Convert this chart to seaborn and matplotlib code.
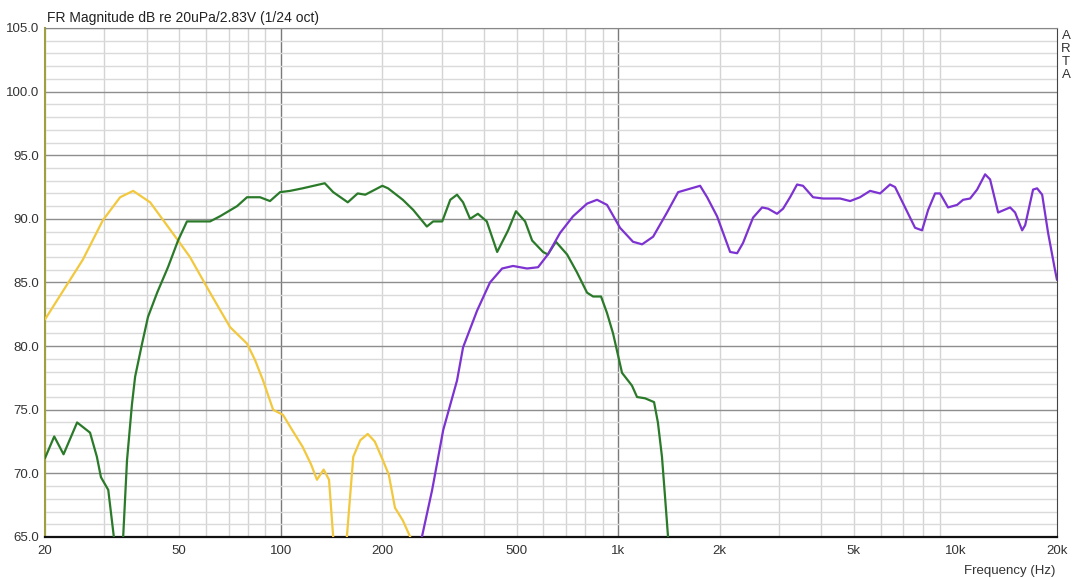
import numpy as np
import pandas as pd
import matplotlib
matplotlib.use('Agg')
import matplotlib.pyplot as plt
import seaborn as sns

# yellow (woofer)
woofer_f = [20, 25.9, 29.7, 33.4, 36.5, 41.0, 49.6, 53.8, 61.7, 70.7, 79.4, 83.9, 88.6, 94.9,
            101.5, 108.7, 116, 123, 128, 134, 139, 143, 150, 157, 164, 172, 181, 190, 201,
            209, 218, 230, 242, 280]
woofer_db = [82.1, 86.8, 89.9, 91.7, 92.2, 91.3, 88.3, 87.0, 84.2, 81.5, 80.2, 78.9, 77.3, 75.0,
             74.6, 73.3, 72.1, 70.7, 69.5, 70.3, 69.5, 65.0, 58.0, 65.0, 71.3, 72.6, 73.1, 72.5, 71.0,
             69.9, 67.3, 66.3, 65.0, 55.0]

# green (midrange)
mid_f = [20, 21.3, 22.7, 24.9, 27.2, 28.5, 29.3, 30.8, 32.0, 33.0, 34.1, 35.0, 36.2, 37.0, 38.8,
         40.4, 43.0, 46.3, 49.6, 52.7, 56.4, 61.7, 66.0, 74.2, 79.4, 86.8, 92.9, 99.5, 106.5,
         116, 135, 143, 158, 169, 178, 200, 208, 230, 247, 271, 283, 301, 318, 333, 347, 364,
         384, 408, 438, 472, 498, 530, 556, 599, 619, 654, 706, 755, 809, 843, 890, 927, 966,
         1027, 1099, 1138, 1202, 1278, 1312, 1349, 1378, 1406, 1500]
mid_db = [71.2, 72.9, 71.5, 74.0, 73.2, 71.3, 69.7, 68.7, 65.0, 58.0, 65.0, 71.0, 75.4, 77.6, 80.2,
          82.3, 84.2, 86.2, 88.3, 89.8, 89.8, 89.8, 90.2, 91.0, 91.7, 91.7, 91.4, 92.1, 92.2,
          92.4, 92.8, 92.1, 91.3, 92.0, 91.9, 92.6, 92.4, 91.5, 90.7, 89.4, 89.8, 89.8, 91.5, 91.9, 91.3, 90.0,
          90.4, 89.8, 87.4, 89.1, 90.6, 89.8, 88.3, 87.4, 87.2, 88.2, 87.2, 85.8, 84.2, 83.9, 83.9, 82.6, 81.0,
          77.9, 76.9, 76.0, 75.9, 75.6, 74.0, 71.3, 68.1, 65.0, 55.0]

# purple (tweeter)
tw_f = [240, 262, 281, 303, 333, 347, 382, 417, 453, 488, 537, 579, 619, 673, 735, 809, 866, 927,
        1013, 1107, 1178, 1270, 1396, 1506, 1750, 1836, 1965, 2148, 2253, 2345, 2512, 2672,
        2785, 2958, 3083, 3234, 3392, 3532, 3784, 4053, 4550, 4872, 5212, 5584, 5978, 6398,
        6622, 7090, 7590, 7962, 8298, 8702, 9004, 9506, 10116, 10536, 11052, 11592, 12244,
        12668, 13382, 14522, 15026, 15766, 16092, 16984, 17460, 18074, 18820, 19724, 20000]
tw_db = [58.0, 65.0, 68.7, 73.4, 77.3, 79.9, 82.8, 85.0, 86.1, 86.3, 86.1, 86.2, 87.2, 88.9, 90.2, 91.2, 91.5, 91.1,
         89.3, 88.2, 88.0, 88.6, 90.5, 92.1, 92.6, 91.7, 90.2, 87.4, 87.3, 88.1, 90.1, 90.9,
         90.8, 90.4, 90.8, 91.7, 92.7, 92.6, 91.7, 91.6, 91.6, 91.4, 91.7, 92.2, 92.0, 92.7,
         92.5, 90.9, 89.3, 89.1, 90.7, 92.0, 92.0, 90.9, 91.1, 91.5, 91.6, 92.3, 93.5,
         93.1, 90.5, 90.9, 90.5, 89.1, 89.5, 92.3, 92.4, 91.9, 88.9, 86.0, 85.2]

x_ticks = [20, 50, 100, 200, 500, 1000, 2000, 5000, 10000, 20000]
x_labels = ['20', '50', '100', '200', '500', '1k', '2k', '5k', '10k', '20k']
y_ticks = [65, 70, 75, 80, 85, 90, 95, 100, 105]

df = pd.concat([
    pd.DataFrame({'f': woofer_f, 'db': woofer_db, 'drv': 'woofer'}),
    pd.DataFrame({'f': mid_f, 'db': mid_db, 'drv': 'mid'}),
    pd.DataFrame({'f': tw_f, 'db': tw_db, 'drv': 'tweeter'}),
])

sns.set_style('white')
plt.rcParams['font.family'] = ['Liberation Sans', 'DejaVu Sans']

fig = plt.figure(figsize=(10.78, 5.78), dpi=100)
ax = fig.add_axes([45 / 1078, 41 / 578, 1012 / 1078, 509 / 578])

# grid: decades dark, the rest light; 5 dB dark, 1 dB light
for dec in [10, 100, 1000]:
    for m in range(1, 10):
        f = dec * m
        if f < 20 or f > 20000:
            continue
        ax.axvline(f, color='#7a7a7a' if m == 1 else '#d4d4d4', lw=1.0, zorder=0)
for v in range(65, 106):
    ax.axhline(v, color='#8e8e8e' if v % 5 == 0 else '#dadada', lw=1.0, zorder=0)

sns.lineplot(data=df, x='f', y='db', hue='drv', sort=False, estimator=None, ax=ax,
             palette={'woofer': '#f2c83e', 'mid': '#2a7a2a', 'tweeter': '#7d32d2'},
             lw=1.6, legend=False, zorder=3)

ax.set_xscale('log')
ax.set_xlim(20, 20000)
ax.set_ylim(65, 105)
ax.set_xticks(x_ticks)
ax.set_xticklabels(x_labels)
ax.minorticks_off()
ax.set_yticks(y_ticks)
ax.set_yticklabels([f'{v:.1f}' for v in y_ticks])
ax.tick_params(length=0, labelsize=9.5, colors='#333333', pad=6)
ax.tick_params(axis='y', pad=4)
ax.set_xlabel('')
ax.set_ylabel('')

ax.spines['bottom'].set_color('#111111')
ax.spines['bottom'].set_linewidth(1.6)
ax.spines['right'].set_color('#444444')
ax.spines['top'].set_color('#888888')
ax.spines['left'].set_color('#a0a040')
ax.spines['left'].set_linewidth(1.5)

fig.text(47 / 1078, 1 - 18 / 578, 'FR Magnitude dB re 20uPa/2.83V (1/24 oct)',
         fontsize=10, color='#222222', va='center', ha='left')
fig.text(1066 / 1078, 1 - 30 / 578, '\n'.join('ARTA'), fontsize=9.5, color='#333333',
         va='top', ha='center', linespacing=1.1)
fig.text(1055 / 1078, 1 - 571 / 578, 'Frequency (Hz)', fontsize=9.5, color='#333333',
         va='center', ha='right')

fig.savefig('out.png', dpi=100)
